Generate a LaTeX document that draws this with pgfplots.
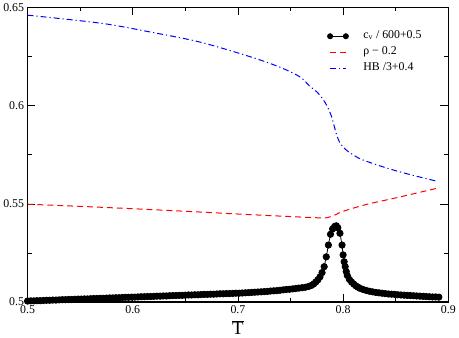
\documentclass[border=0pt]{standalone}
\usepackage{fontspec}
\setmainfont{Liberation Serif}
\usepackage{pgfplots}
\pgfplotsset{compat=1.18}
\pgfplotsset{
  twomark/.style={legend image code/.code={%
    \draw[##1, mark size=2.6bp] plot coordinates {(0cm,0cm) (0.56cm,0cm)};}},
  lineleg/.style={legend image code/.code={%
    \draw[##1] (0cm,0cm) -- (0.56cm,0cm);}},
}
\begin{document}
\begin{tikzpicture}
\begin{axis}[
    scale only axis,
    width=424bp, height=297bp,
    xmin=0.5, xmax=0.9,
    ymin=0.5, ymax=0.65,
    xtick={0.5,0.6,0.7,0.8,0.9},
    xticklabels={0.5,0.6,0.7,0.8,0.9},
    ytick={0.5,0.55,0.6,0.65},
    yticklabels={0.5,0.55,0.6,0.65},
    minor x tick num=1,
    minor y tick num=1,
    major tick length=8bp,
    minor tick length=4bp,
    tick style={black, line width=0.6bp},
    axis line style={line width=1.2bp},
    tick label style={font=\fontsize{12}{14}\selectfont},
    xlabel={\fontsize{19}{20}\selectfont$\overline{\mbox{T}}$},
    xlabel style={yshift=0bp},
    legend style={at={(0.7125,0.93)}, anchor=north west, draw=none, fill=none,
        inner sep=0pt, font=\fontsize{12}{14}\selectfont,
        nodes={inner sep=0pt, text height=10bp, text depth=6.3bp},
        /tikz/every odd column/.append style={column sep=15bp}},
    legend cell align=left,
]
% c_v / 600 + 0.5
\addplot[color=black, line width=0.8bp, mark=*, mark size=3.2bp, twomark]
coordinates {
(0.500,0.5005) (0.503,0.5006) (0.506,0.5006) (0.509,0.5007) (0.512,0.5007)
(0.515,0.5008) (0.518,0.5009) (0.521,0.5009) (0.524,0.5010) (0.527,0.5010)
(0.530,0.5011) (0.533,0.5012) (0.536,0.5012) (0.539,0.5013) (0.542,0.5013)
(0.545,0.5014) (0.548,0.5015) (0.551,0.5015) (0.554,0.5016) (0.557,0.5016)
(0.560,0.5017) (0.563,0.5018) (0.566,0.5018) (0.569,0.5019) (0.572,0.5019)
(0.575,0.5020) (0.578,0.5021) (0.581,0.5021) (0.584,0.5022) (0.587,0.5022)
(0.590,0.5023) (0.593,0.5024) (0.596,0.5024) (0.599,0.5025) (0.602,0.5025)
(0.605,0.5026) (0.608,0.5027) (0.611,0.5027) (0.614,0.5028) (0.617,0.5028)
(0.620,0.5029) (0.623,0.5030) (0.626,0.5030) (0.629,0.5031) (0.632,0.5031)
(0.635,0.5032) (0.638,0.5033) (0.641,0.5033) (0.644,0.5034) (0.647,0.5034)
(0.650,0.5035) (0.653,0.5036) (0.656,0.5036) (0.659,0.5037) (0.662,0.5037)
(0.665,0.5038) (0.668,0.5039) (0.671,0.5039) (0.674,0.5040) (0.677,0.5040)
(0.680,0.5041) (0.683,0.5042) (0.686,0.5042) (0.689,0.5043) (0.692,0.5043)
(0.695,0.5044) (0.698,0.5045) (0.701,0.5045) (0.704,0.5046) (0.707,0.5047)
(0.710,0.5048) (0.713,0.5049) (0.716,0.5050) (0.719,0.5051) (0.722,0.5052)
(0.725,0.5053) (0.728,0.5054) (0.731,0.5056) (0.734,0.5057) (0.737,0.5058)
(0.740,0.5060) (0.743,0.5062) (0.746,0.5064) (0.749,0.5065) (0.752,0.5067)
(0.755,0.5069) (0.758,0.5071) (0.761,0.5073) (0.764,0.5075) (0.767,0.5079)
(0.770,0.5085) (0.772,0.5092) (0.774,0.5102) (0.776,0.5113) (0.778,0.5128)
(0.780,0.5150) (0.782,0.5180) (0.784,0.5230) (0.786,0.5290) (0.788,0.5345)
(0.790,0.5372) (0.792,0.5385) (0.7935,0.5388) (0.795,0.5378) (0.797,0.5350)
(0.799,0.5290) (0.800,0.5240) (0.801,0.5205) (0.802,0.5180) (0.803,0.5155)
(0.804,0.5135) (0.806,0.5115) (0.808,0.5102) (0.810,0.5092) (0.812,0.5083)
(0.814,0.5076) (0.816,0.5070) (0.819,0.5064) (0.822,0.5059) (0.825,0.5055)
(0.828,0.5052) (0.831,0.5049) (0.834,0.5047) (0.837,0.5045) (0.840,0.5043)
(0.843,0.5041) (0.846,0.5040) (0.849,0.5039) (0.852,0.5037) (0.855,0.5036)
(0.858,0.5035) (0.861,0.5034) (0.864,0.5033) (0.867,0.5032) (0.870,0.5031)
(0.873,0.5030) (0.876,0.5029) (0.879,0.5028) (0.882,0.5027) (0.885,0.5026)
(0.888,0.5026) (0.891,0.5025)
};
\addlegendentry{c$_\mathrm{v}$ / 600+0.5}

% rho - 0.2
\addplot[color=red, line width=1bp, dash pattern=on 6bp off 4bp, smooth, lineleg]
coordinates {
(0.50,0.5498) (0.55,0.5487) (0.60,0.5475) (0.65,0.5462) (0.70,0.5448)
(0.75,0.5435) (0.78,0.5428) (0.785,0.5430) (0.79,0.5438) (0.795,0.5450)
(0.80,0.5462) (0.823,0.5498) (0.85,0.5530) (0.89,0.5580)
};
\addlegendentry{ρ − 0.2}

% HB/3 + 0.4
\addplot[color=blue, line width=1bp, dash pattern=on 6bp off 3bp on 1.2bp off 3bp, smooth, lineleg]
coordinates {
(0.50,0.6460) (0.57,0.6419) (0.617,0.6374) (0.664,0.6323) (0.712,0.6248)
(0.74,0.6195) (0.759,0.6146) (0.768,0.6100) (0.775,0.6070) (0.7805,0.6035)
(0.785,0.5995) (0.789,0.5944) (0.7937,0.5854) (0.7965,0.5815) (0.7993,0.5793)
(0.805,0.5765) (0.815,0.5732) (0.822,0.5717) (0.835,0.5693) (0.851,0.5667)
(0.87,0.5640) (0.89,0.5614)
};
\addlegendentry{HB /3+0.4}
\end{axis}
\end{tikzpicture}
\end{document}
